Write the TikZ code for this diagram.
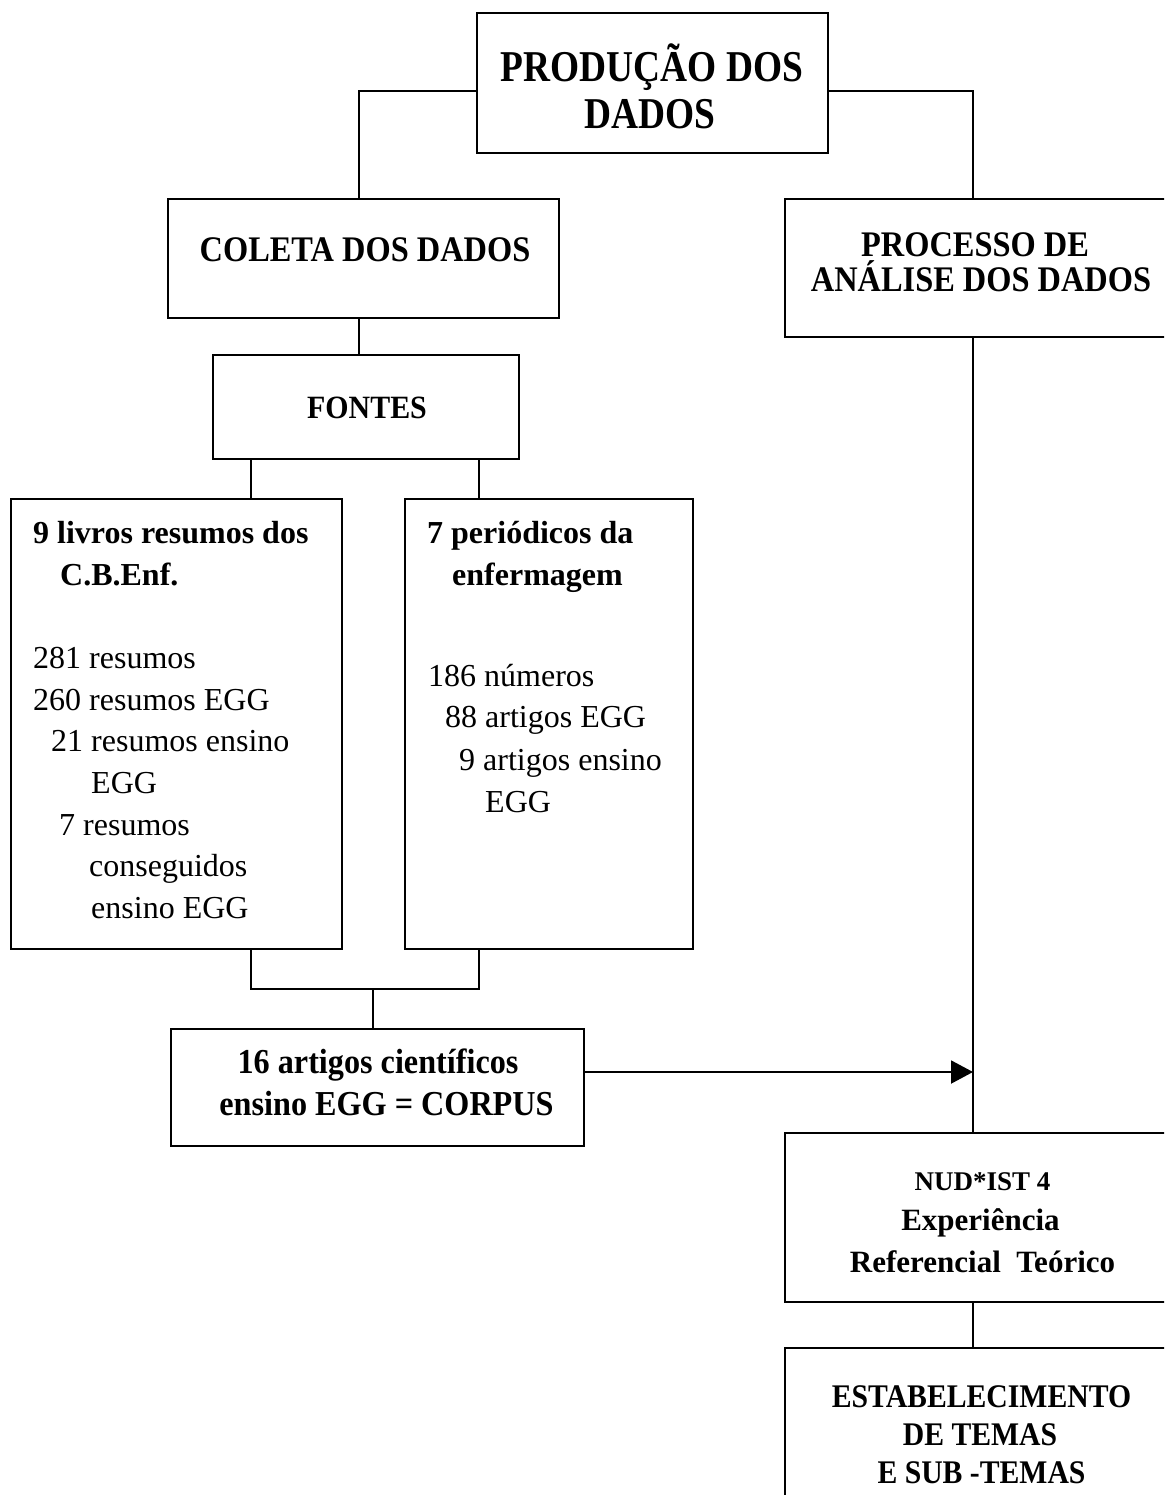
\documentclass[tikz,border=0pt]{standalone}
\usepackage{fontspec}
\setmainfont{Liberation Serif}
\newfontfamily\fA[FakeStretch=0.85]{Liberation Serif}
\newfontfamily\fB[FakeStretch=0.90]{Liberation Serif}
\newfontfamily\fC[FakeStretch=0.92]{Liberation Serif}
\usetikzlibrary{arrows.meta}
\tikzset{
  box/.style={draw, line width=2pt, inner sep=0pt, rectangle},
  conn/.style={line width=2pt},
  arr/.style={conn, -{Triangle[length=22pt,width=23pt]}},
  lbl/.style={inner sep=0pt, anchor=base},
  lft/.style={inner sep=0pt, anchor=base west},
  tA/.style={font=\fA\bfseries\fontsize{44}{50}\selectfont},
  tB/.style={font=\fB\bfseries\fontsize{36}{40}\selectfont},
  tE/.style={font=\fB\bfseries\fontsize{33}{38}\selectfont},
  tC/.style={font=\fC\bfseries\fontsize{35}{40}\selectfont},
  tF/.style={font=\fC\bfseries\fontsize{32.5}{38}\selectfont},
  tHb/.style={font=\bfseries\fontsize{32}{40}\selectfont},
  tHr/.style={font=\fontsize{32}{40}\selectfont},
  tNs/.style={font=\bfseries\fontsize{27}{32}\selectfont},
  tNb/.style={font=\bfseries\fontsize{31}{36}\selectfont},
}
\begin{document}
\begin{tikzpicture}[x=1pt,y=-1pt]
\fill[white] (0,0) rectangle (1164,1495);
\useasboundingbox (0,0) rectangle (1164,1495);
\begin{scope}
\clip (0,0) rectangle (1164,1495);

% boxes
\node[box, minimum width=351pt, minimum height=140pt] (top) at (652.5,83) {};
\node[box, minimum width=391pt, minimum height=119pt] (coleta) at (363.5,258.5) {};
\node[box, minimum width=388pt, minimum height=138pt] (processo) at (979,268) {};
\node[box, minimum width=306pt, minimum height=104pt] (fontes) at (366,407) {};
\node[box, minimum width=331pt, minimum height=450pt] (livros) at (176.5,724) {};
\node[box, minimum width=288pt, minimum height=450pt] (period) at (549,724) {};
\node[box, minimum width=413pt, minimum height=117pt] (corpus) at (377.5,1087.5) {};
\node[box, minimum width=388pt, minimum height=169pt] (nud) at (979,1217.5) {};
\node[box, minimum width=388pt, minimum height=172pt] (estab) at (979,1434) {};

% connectors
\draw[conn] ([yshift=-8pt]top.west) -| ([xshift=-4.5pt]coleta.north);
\draw[conn] ([yshift=-8pt]top.east) -| ([xshift=-6pt]processo.north);
\coordinate (cs) at ([xshift=-4.5pt]coleta.south);
\draw[conn] (cs) -- (cs |- fontes.north);
\coordinate (la) at ([xshift=74.5pt]livros.north);
\coordinate (pa) at ([xshift=-70pt]period.north);
\draw[conn] (la) -- (la |- fontes.south);
\draw[conn] (pa) -- (pa |- fontes.south);
\coordinate (join) at (373,989);
\draw[conn] ([xshift=74.5pt]livros.south) |- (join) -| ([xshift=-70pt]period.south);
\draw[conn] (join) -- (join |- corpus.north);
\coordinate (px) at ([xshift=-6pt]processo.south);
\draw[conn] (px) -- (px |- nud.north);
\coordinate (aS) at ([yshift=15.5pt]corpus.east);
\draw[arr] (aS) -- (aS -| px);
\coordinate (ns) at ([xshift=-6pt]nud.south);
\draw[conn] (ns) -- (ns |- estab.north);

% texts
\node[lbl, tA] (t1) at (652,82) {PRODUÇÃO DOS};
\node[lbl, tA] (t2) at (650,129) {DADOS};
\node[lbl, tB] (c1) at (365,262) {COLETA DOS DADOS};
\node[lbl, tB] (p1) at (975,257) {PROCESSO DE};
\node[lbl, tB] (p2) at (981,292) {ANÁLISE DOS DADOS};
\node[lbl, tF] (f1) at (367,418) {FONTES};

\node[lft, tHb] (l1) at (33,543) {9 livros resumos dos};
\node[lft, tHb] (l2) at (60,585) {C.B.Enf.};
\node[lft, tHr] (l3) at (33,668) {281 resumos};
\node[lft, tHr] (l4) at (33,710) {260 resumos EGG};
\node[lft, tHr] (l5) at (51,751) {21 resumos ensino};
\node[lft, tHr] (l6) at (91,793) {EGG};
\node[lft, tHr] (l7) at (59,835) {7 resumos};
\node[lft, tHr] (l8) at (89,876) {conseguidos};
\node[lft, tHr] (l9) at (91,918) {ensino EGG};

\node[lft, tHb] (r1) at (427,543) {7 periódicos da};
\node[lft, tHb] (r2) at (452,585) {enfermagem};
\node[lft, tHr] (r3) at (428,686) {186 números};
\node[lft, tHr] (r4) at (445,727) {88 artigos EGG};
\node[lft, tHr] (r5) at (459,770) {9 artigos ensino};
\node[lft, tHr] (r6) at (485,812) {EGG};

\node[lbl, tC] (k1) at (378,1073) {16 artigos científicos};
\node[lbl, tC] (k2) at (386.5,1115) {ensino EGG = CORPUS};

\node[lbl, tNs] (n1) at (982.5,1190) {NUD*IST 4};
\node[lbl, tNb] (n2) at (980.5,1230) {Experiência};
\node[lbl, tNb] (n3) at (982.5,1272) {Referencial\ \ Teórico};

\node[lbl, tE] (e1) at (981.5,1407) {ESTABELECIMENTO};
\node[lbl, tE] (e2) at (980,1445) {DE TEMAS};
\node[lbl, tE] (e3) at (981.5,1483) {E SUB -TEMAS};
\end{scope}
\end{tikzpicture}
\end{document}
